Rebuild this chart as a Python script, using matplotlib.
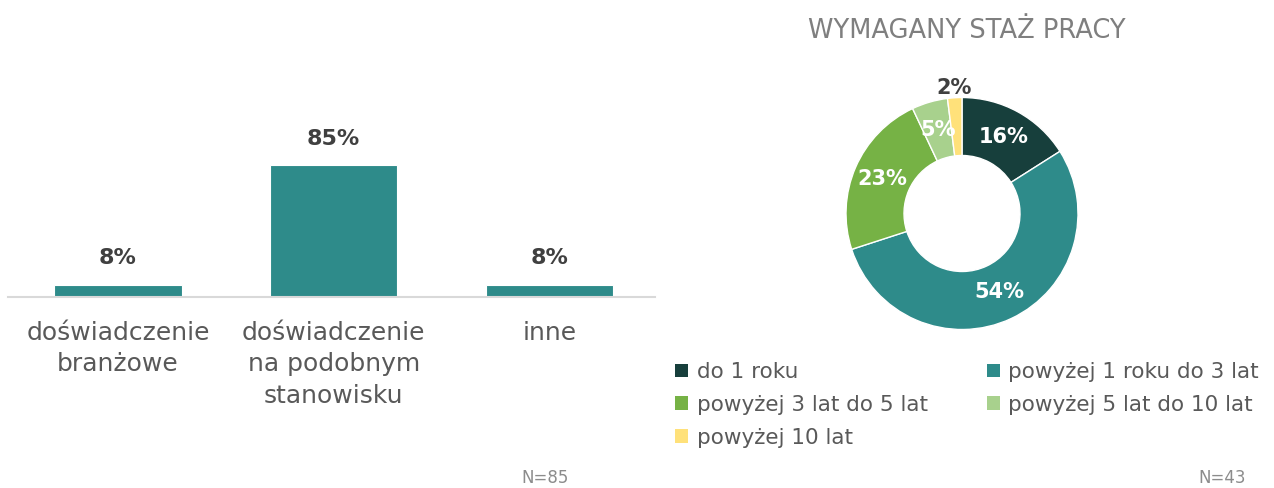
import numpy as np
import matplotlib.pyplot as plt
from matplotlib.patches import Patch

# bar chart data
bar_labels = ["doświadczenie\nbranżowe", "doświadczenie\nna podobnym\nstanowisku", "inne"]
bar_values = [8, 85, 8]

# donut data
pie_title = "WYMAGANY STAŻ PRACY"
pie_labels = ["do 1 roku", "powyżej 1 roku do 3 lat", "powyżej 3 lat do 5 lat",
              "powyżej 5 lat do 10 lat", "powyżej 10 lat"]
pie_values = [16, 54, 23, 5, 2]
pie_colors = ["#173f3c", "#2e8b8a", "#76b245", "#a8d18d", "#ffe17a"]

teal = "#2e8b8a"
dark = "#404040"
gray = "#595959"

W, H = 1274, 488
fig = plt.figure(figsize=(W / 100, H / 100), dpi=100)
fig.patch.set_facecolor("white")

narrow = ["DejaVu Sans Condensed", "Liberation Sans Narrow", "DejaVu Sans"]


def box(x0, y_top, w, h):
    # pixel box (from top-left) -> figure fraction
    return [x0 / W, (H - y_top - h) / H, w / W, h / H]


# ---- bar chart ----
ax = fig.add_axes(box(8, 141.7, 647, 155.3))
x = np.arange(len(bar_values))
bars = ax.bar(x, bar_values, width=0.59, color=teal, edgecolor="white", linewidth=0.8)
ax.set_xlim(-0.51, 2.49)
ax.set_ylim(0, 100)
for s in ["top", "right", "left"]:
    ax.spines[s].set_visible(False)
ax.spines["bottom"].set_color("#d9d9d9")
ax.spines["bottom"].set_linewidth(1.5)
ax.set_yticks([])
ax.set_xticks(x)
ax.set_xticklabels(bar_labels, fontsize=18, color=gray, linespacing=1.4)
ax.tick_params(axis="x", length=0, pad=17)
for b, v in zip(bars, bar_values):
    ax.annotate(f"{v}%", (b.get_x() + b.get_width() / 2, v), xytext=(0, 19),
                textcoords="offset points", ha="center", va="center",
                fontsize=16, fontweight="bold", color=dark, family=narrow)

fig.text(545 / W, 1 / H, "N=85", ha="center", va="bottom", fontsize=12, color="#8c8c8c")

# ---- donut ----
R = 116
ax2 = fig.add_axes(box(962 - 130, 213.5 - 130, 260, 260))
lim = 130 / R
wedges, _ = ax2.pie(pie_values, colors=pie_colors, startangle=90, counterclock=False,
                    radius=1, wedgeprops=dict(width=0.5, edgecolor="white", linewidth=1))
ax2.set_xlim(-lim, lim)
ax2.set_ylim(-lim, lim)
ax2.set_aspect("equal")
ax2.axis("off")
for w, v in zip(wedges, pie_values):
    ang = np.deg2rad((w.theta1 + w.theta2) / 2)
    if v < 3:
        r, c = 1.08, dark
    else:
        r, c = 0.75, "white"
    ax2.text(r * np.cos(ang), r * np.sin(ang), f"{v}%", ha="center", va="center",
             fontsize=15, fontweight="bold", color=c)

fig.text(967 / W, (H - 31) / H, pie_title, ha="center", va="center", fontsize=18.5, color="#7f7f7f")

order = [0, 2, 4, 1, 3]
handles = [Patch(facecolor=pie_colors[i]) for i in order]
labels = [pie_labels[i] for i in order]
fig.legend(handles, labels, ncol=2, loc="upper left", bbox_to_anchor=(675 / W, (H - 362) / H),
           frameon=False, fontsize=15.5, labelcolor=gray, handlelength=0.6, handleheight=0.6,
           handletextpad=0.4, columnspacing=2.75, labelspacing=0.6, borderpad=0, borderaxespad=0)

fig.text(1222 / W, 1 / H, "N=43", ha="center", va="bottom", fontsize=12, color="#8c8c8c")

fig.savefig("out.png", dpi=100)
